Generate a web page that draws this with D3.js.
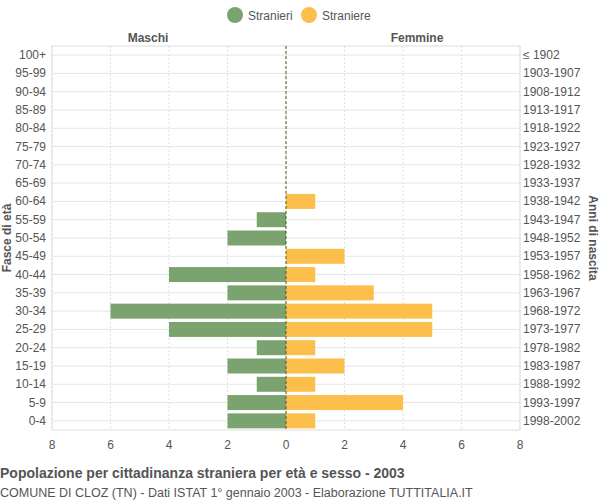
<!DOCTYPE html>
<html><head><meta charset="utf-8">
<script src="https://cdn.jsdelivr.net/npm/d3@7"></script>
<style>body{margin:0;background:#fff}svg{font-family:"Liberation Sans",Arial,sans-serif}</style>
</head><body><div id="chart"></div>
<script>
// age groups, top to bottom
var ages = ["100+","95-99","90-94","85-89","80-84","75-79","70-74","65-69","60-64","55-59","50-54","45-49","40-44","35-39","30-34","25-29","20-24","15-19","10-14","5-9","0-4"];
var births = ["≤ 1902","1903-1907","1908-1912","1913-1917","1918-1922","1923-1927","1928-1932","1933-1937","1938-1942","1943-1947","1948-1952","1953-1957","1958-1962","1963-1967","1968-1972","1973-1977","1978-1982","1983-1987","1988-1992","1993-1997","1998-2002"];
var males   = [0,0,0,0,0,0,0,0,0,1,2,0,4,2,6,4,1,2,1,2,2];
var females = [0,0,0,0,0,0,0,0,1,0,0,2,1,3,5,5,1,2,1,4,1];
var xTicks = [-8,-6,-4,-2,0,2,4,6,8];

var green = "#7ba36f", orange = "#fdbf4b";
var svg = d3.select("#chart").append("svg").attr("width",600).attr("height",500);

var x = d3.scaleLinear().domain([-8,8]).range([52,520]);
var y = d3.scaleBand().domain(ages).range([46,430]).paddingInner(0.18).paddingOuter(0.09);

// frame and grid
svg.append("rect").attr("x",52).attr("y",46).attr("width",468).attr("height",384)
  .attr("fill","none").attr("stroke","#ddd");
svg.selectAll(".hg").data(ages).enter().append("line")
  .attr("x1",52).attr("x2",520)
  .attr("y1",function(d){return y(d)+y.bandwidth()/2;})
  .attr("y2",function(d){return y(d)+y.bandwidth()/2;})
  .attr("stroke","#e6e6e6");
svg.selectAll(".vg").data(xTicks).enter().append("line")
  .attr("x1",function(d){return x(d);}).attr("x2",function(d){return x(d);})
  .attr("y1",46).attr("y2",430).attr("stroke","#e0e0e0").attr("stroke-dasharray","2,2");

// bars
svg.selectAll(".m").data(males).enter().append("rect")
  .attr("x",function(d){return x(-d);}).attr("y",function(d,i){return y(ages[i]);})
  .attr("width",function(d){return x(0)-x(-d);}).attr("height",y.bandwidth())
  .attr("fill",green);
svg.selectAll(".f").data(females).enter().append("rect")
  .attr("x",x(0)).attr("y",function(d,i){return y(ages[i]);})
  .attr("width",function(d){return x(d)-x(0);}).attr("height",y.bandwidth())
  .attr("fill",orange);

svg.append("line").attr("x1",x(0)).attr("x2",x(0)).attr("y1",46).attr("y2",430)
  .attr("stroke","#555a20").attr("stroke-dasharray","3,2");

// axis labels
svg.selectAll(".xl").data(xTicks).enter().append("text")
  .attr("x",function(d){return x(d);}).attr("y",449).attr("text-anchor","middle")
  .attr("font-size",12).attr("fill","#555").text(function(d){return Math.abs(d);});
svg.selectAll(".al").data(ages).enter().append("text")
  .attr("x",46).attr("y",function(d){return y(d)+y.bandwidth()/2+4;}).attr("text-anchor","end")
  .attr("font-size",12).attr("fill","#555").text(function(d){return d;});
svg.selectAll(".bl").data(births).enter().append("text")
  .attr("x",523).attr("y",function(d,i){return y(ages[i])+y.bandwidth()/2+4;})
  .attr("font-size",12).attr("fill","#555").text(function(d){return d;});

svg.append("text").attr("x",148).attr("y",42).attr("text-anchor","middle")
  .attr("font-size",12).attr("font-weight","bold").attr("fill","#555").text("Maschi");
svg.append("text").attr("x",417).attr("y",42).attr("text-anchor","middle")
  .attr("font-size",12).attr("font-weight","bold").attr("fill","#555").text("Femmine");
svg.append("text").attr("transform","translate(11,238) rotate(-90)").attr("text-anchor","middle")
  .attr("font-size",12).attr("font-weight","bold").attr("fill","#555").text("Fasce di età");
svg.append("text").attr("transform","translate(589,238) rotate(90)").attr("text-anchor","middle")
  .attr("font-size",12).attr("font-weight","bold").attr("fill","#555").text("Anni di nascita");

// legend
svg.append("circle").attr("cx",235).attr("cy",15).attr("r",8).attr("fill",green);
svg.append("text").attr("x",248).attr("y",20).attr("font-size",12).attr("fill","#555").text("Stranieri");
svg.append("circle").attr("cx",309).attr("cy",15).attr("r",8).attr("fill",orange);
svg.append("text").attr("x",322).attr("y",20).attr("font-size",12).attr("fill","#555").text("Straniere");

// titles
svg.append("text").attr("x",0).attr("y",478).attr("font-size",14).attr("font-weight","bold")
  .attr("fill","#555").text("Popolazione per cittadinanza straniera per età e sesso - 2003");
svg.append("text").attr("x",0).attr("y",497).attr("font-size",12.5)
  .attr("fill","#555").text("COMUNE DI CLOZ (TN) - Dati ISTAT 1° gennaio 2003 - Elaborazione TUTTITALIA.IT");
</script></body></html>
